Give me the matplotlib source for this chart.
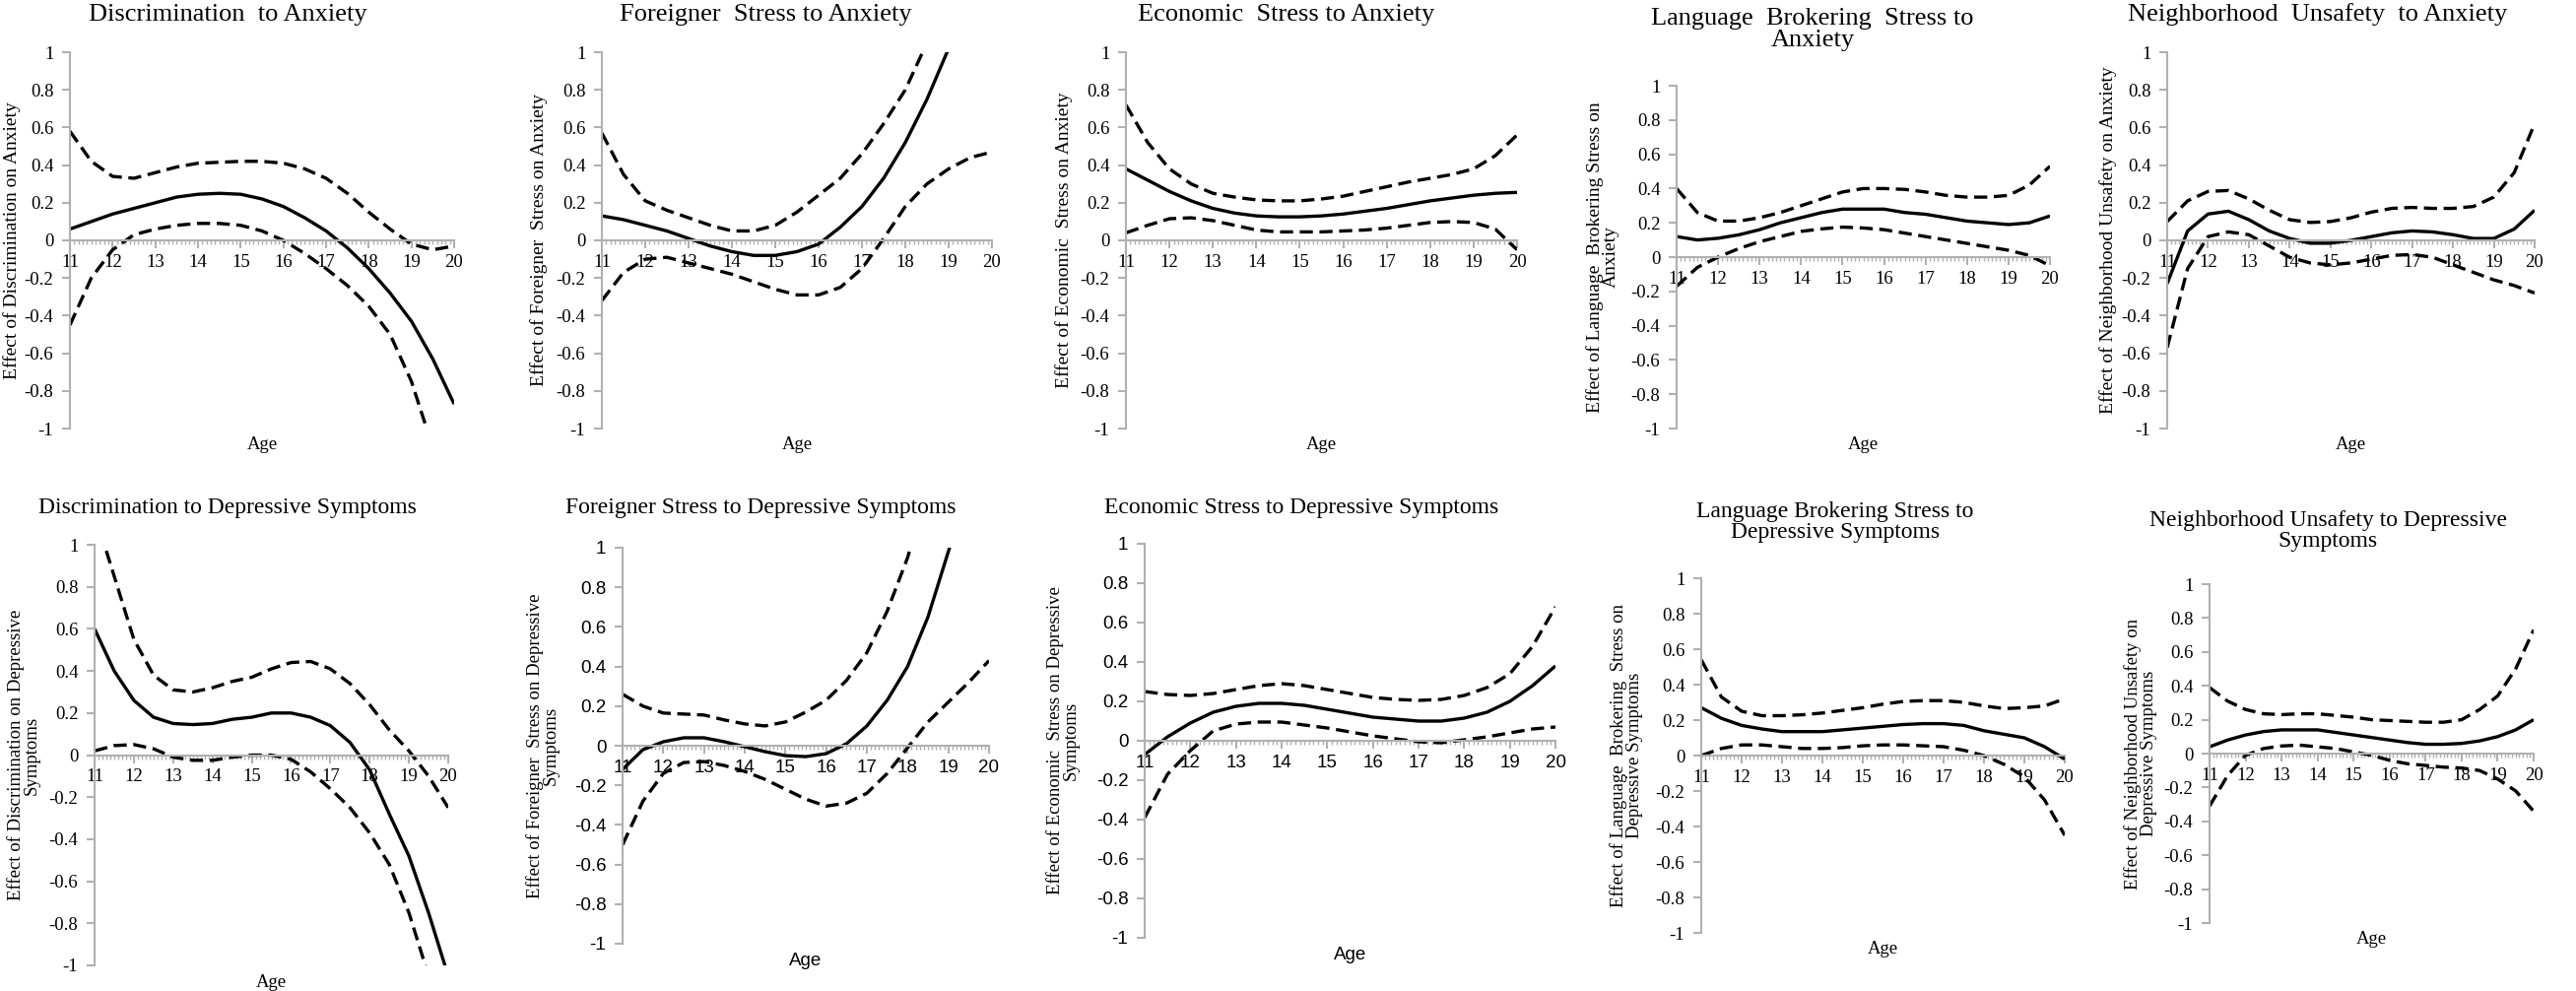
import numpy as np
import matplotlib
matplotlib.use("Agg")
import matplotlib.pyplot as plt
from matplotlib.ticker import MultipleLocator

# ages at half-year steps
age = [11, 11.5, 12, 12.5, 13, 13.5, 14, 14.5, 15, 15.5, 16, 16.5, 17, 17.5, 18, 18.5, 19, 19.5, 20]

# --- row 1: anxiety ---
disc_anx = [0.06, 0.10, 0.14, 0.17, 0.20, 0.23, 0.245, 0.25, 0.245, 0.22, 0.18, 0.12, 0.05, -0.04, -0.15, -0.28, -0.43, -0.63, -0.87]
disc_anx_hi = [0.58, 0.42, 0.34, 0.33, 0.36, 0.39, 0.41, 0.415, 0.42, 0.42, 0.41, 0.38, 0.33, 0.25, 0.15, 0.06, -0.02, -0.05, -0.03]
disc_anx_lo = [-0.45, -0.2, -0.05, 0.03, 0.06, 0.08, 0.09, 0.09, 0.08, 0.05, 0.0, -0.07, -0.15, -0.24, -0.35, -0.5, -0.75, -1.1, -1.5]

for_anx = [0.13, 0.11, 0.08, 0.05, 0.01, -0.03, -0.06, -0.08, -0.08, -0.06, -0.02, 0.07, 0.18, 0.33, 0.52, 0.75, 1.02, 1.3, 1.6]
for_anx_hi = [0.57, 0.35, 0.21, 0.16, 0.12, 0.08, 0.05, 0.05, 0.08, 0.15, 0.24, 0.33, 0.46, 0.62, 0.80, 1.05, 1.3, 1.6, 1.9]
for_anx_lo = [-0.32, -0.17, -0.1, -0.09, -0.12, -0.15, -0.18, -0.22, -0.26, -0.29, -0.29, -0.25, -0.15, 0.01, 0.18, 0.30, 0.38, 0.44, 0.47]

eco_anx = [0.38, 0.32, 0.26, 0.21, 0.17, 0.145, 0.13, 0.125, 0.125, 0.13, 0.14, 0.155, 0.17, 0.19, 0.21, 0.225, 0.24, 0.25, 0.255]
eco_anx_hi = [0.72, 0.52, 0.38, 0.30, 0.25, 0.23, 0.215, 0.21, 0.21, 0.22, 0.235, 0.26, 0.285, 0.31, 0.33, 0.35, 0.38, 0.45, 0.56]
eco_anx_lo = [0.04, 0.08, 0.115, 0.12, 0.105, 0.08, 0.055, 0.045, 0.045, 0.045, 0.05, 0.055, 0.065, 0.08, 0.095, 0.10, 0.095, 0.06, -0.05]

lang_anx = [0.12, 0.10, 0.11, 0.13, 0.16, 0.20, 0.23, 0.26, 0.28, 0.28, 0.28, 0.26, 0.25, 0.23, 0.21, 0.20, 0.19, 0.20, 0.24]
lang_anx_hi = [0.40, 0.26, 0.21, 0.21, 0.23, 0.26, 0.30, 0.34, 0.38, 0.40, 0.40, 0.395, 0.38, 0.36, 0.35, 0.35, 0.36, 0.42, 0.53]
lang_anx_lo = [-0.17, -0.06, 0.0, 0.05, 0.09, 0.12, 0.15, 0.165, 0.175, 0.17, 0.16, 0.14, 0.12, 0.10, 0.08, 0.06, 0.04, 0.01, -0.05]

nbh_anx = [-0.23, 0.05, 0.14, 0.155, 0.11, 0.05, 0.01, -0.015, -0.015, 0.0, 0.02, 0.04, 0.05, 0.045, 0.03, 0.01, 0.01, 0.06, 0.16]
nbh_anx_hi = [0.10, 0.21, 0.26, 0.265, 0.22, 0.16, 0.11, 0.095, 0.10, 0.12, 0.15, 0.17, 0.175, 0.17, 0.17, 0.18, 0.23, 0.36, 0.62]
nbh_anx_lo = [-0.57, -0.15, 0.02, 0.045, 0.03, -0.03, -0.09, -0.12, -0.13, -0.12, -0.10, -0.08, -0.075, -0.09, -0.13, -0.17, -0.21, -0.24, -0.28]

# --- row 2: depressive symptoms ---
disc_dep = [0.60, 0.40, 0.26, 0.18, 0.15, 0.145, 0.15, 0.17, 0.18, 0.20, 0.20, 0.18, 0.14, 0.06, -0.07, -0.28, -0.48, -0.75, -1.05]
disc_dep_hi = [1.15, 0.85, 0.55, 0.38, 0.31, 0.30, 0.32, 0.35, 0.37, 0.41, 0.44, 0.445, 0.41, 0.34, 0.24, 0.12, 0.02, -0.10, -0.25]
disc_dep_lo = [0.02, 0.045, 0.05, 0.03, -0.01, -0.025, -0.025, -0.01, 0.0, 0.0, -0.02, -0.08, -0.16, -0.25, -0.37, -0.52, -0.75, -1.05, -1.4]

for_dep = [-0.12, -0.02, 0.02, 0.04, 0.04, 0.02, -0.005, -0.03, -0.05, -0.055, -0.04, 0.01, 0.10, 0.23, 0.40, 0.65, 0.98, 1.3, 1.6]
for_dep_hi = [0.26, 0.20, 0.165, 0.16, 0.155, 0.13, 0.11, 0.10, 0.12, 0.17, 0.23, 0.33, 0.47, 0.68, 0.95, 1.3, 1.6, 1.9, 2.2]
for_dep_lo = [-0.50, -0.28, -0.14, -0.085, -0.08, -0.10, -0.13, -0.17, -0.22, -0.27, -0.305, -0.29, -0.24, -0.14, -0.01, 0.12, 0.22, 0.32, 0.43]

eco_dep = [-0.07, 0.02, 0.09, 0.145, 0.175, 0.19, 0.19, 0.18, 0.16, 0.14, 0.12, 0.11, 0.10, 0.10, 0.115, 0.145, 0.20, 0.28, 0.38]
eco_dep_hi = [0.25, 0.235, 0.23, 0.24, 0.26, 0.28, 0.29, 0.28, 0.26, 0.24, 0.22, 0.21, 0.205, 0.21, 0.23, 0.27, 0.34, 0.48, 0.68]
eco_dep_lo = [-0.39, -0.17, -0.05, 0.05, 0.085, 0.095, 0.095, 0.08, 0.065, 0.045, 0.025, 0.01, -0.005, -0.01, 0.005, 0.02, 0.04, 0.06, 0.07]

lang_dep = [0.27, 0.21, 0.17, 0.15, 0.135, 0.135, 0.135, 0.145, 0.155, 0.165, 0.175, 0.18, 0.18, 0.17, 0.14, 0.12, 0.10, 0.05, -0.02]
lang_dep_hi = [0.54, 0.33, 0.25, 0.225, 0.225, 0.23, 0.24, 0.255, 0.27, 0.29, 0.305, 0.31, 0.31, 0.30, 0.28, 0.265, 0.27, 0.28, 0.32]
lang_dep_lo = [0.0, 0.04, 0.06, 0.06, 0.05, 0.04, 0.04, 0.045, 0.055, 0.06, 0.06, 0.055, 0.05, 0.03, 0.0, -0.05, -0.12, -0.25, -0.45]

nbh_dep = [0.04, 0.08, 0.11, 0.13, 0.14, 0.14, 0.14, 0.125, 0.11, 0.095, 0.08, 0.065, 0.055, 0.055, 0.06, 0.075, 0.10, 0.14, 0.20]
nbh_dep_hi = [0.39, 0.31, 0.26, 0.235, 0.23, 0.235, 0.235, 0.225, 0.215, 0.20, 0.195, 0.19, 0.185, 0.185, 0.20, 0.26, 0.34, 0.50, 0.73]
nbh_dep_lo = [-0.31, -0.13, -0.01, 0.03, 0.045, 0.05, 0.04, 0.03, 0.01, -0.01, -0.04, -0.06, -0.07, -0.08, -0.085, -0.10, -0.15, -0.22, -0.34]

titles = ["Discrimination  to Anxiety", "Foreigner  Stress to Anxiety", "Economic  Stress to Anxiety",
          "Language  Brokering  Stress to\nAnxiety", "Neighborhood  Unsafety  to Anxiety",
          "Discrimination to Depressive Symptoms", "Foreigner Stress to Depressive Symptoms",
          "Economic Stress to Depressive Symptoms", "Language Brokering Stress to\nDepressive Symptoms",
          "Neighborhood Unsafety to Depressive\nSymptoms"]
ylabels = ["Effect of Discrimination on Anxiety", "Effect of Foreigner  Stress on Anxiety",
           "Effect of Economic  Stress on Anxiety", "Effect of Language  Brokering Stress on\nAnxiety",
           "Effect of Neighborhood Unsafety on Anxiety",
           "Effect of Discrimination on Depressive\nSymptoms", "Effect of Foreigner  Stress on Depressive\nSymptoms",
           "Effect of Economic  Stress on Depressive\nSymptoms", "Effect of Language  Brokering  Stress on\nDepressive Symptoms",
           "Effect of Neighborhood Unsafety on\nDepressive Symptoms"]
series = [(disc_anx, disc_anx_hi, disc_anx_lo), (for_anx, for_anx_hi, for_anx_lo), (eco_anx, eco_anx_hi, eco_anx_lo),
          (lang_anx, lang_anx_hi, lang_anx_lo), (nbh_anx, nbh_anx_hi, nbh_anx_lo),
          (disc_dep, disc_dep_hi, disc_dep_lo), (for_dep, for_dep_hi, for_dep_lo), (eco_dep, eco_dep_hi, eco_dep_lo),
          (lang_dep, lang_dep_hi, lang_dep_lo), (nbh_dep, nbh_dep_hi, nbh_dep_lo)]

# layout in pixels: left, right, top, bottom of axes; title centre; ylabel centre offset
W, H = 2615, 1006
boxes = [(71, 461, 53, 435), (611, 1007, 53, 435), (1143, 1540, 53, 435), (1702, 2081, 87, 435), (2200, 2573, 53, 435),
         (96, 455, 553, 980), (632, 1004, 556, 958), (1162, 1579, 552, 952), (1727, 2096, 587, 947), (2243, 2572, 593, 937)]
title_pos = [(231, 15), (777, 15), (1306, 15), (1840, 30), (2353, 15),
             (231, 515), (772, 515), (1321, 515), (1863, 530), (2363, 539)]
ylab_off = [59, 64, 63, 75, 60, 72, 81, 83, 76, 70]
sans_ticks = [False] * 6 + [True, True, False, False]

SERIF = "Liberation Serif"
SANS = "Liberation Sans"

fig = plt.figure(figsize=(W / 100, H / 100), dpi=100)

for i in range(10):
    l, r, t, b = boxes[i]
    ax = fig.add_axes([l / W, 1 - b / H, (r - l) / W, (b - t) / H])
    est, hi, lo = series[i]
    ax.plot(age, est, color="black", lw=2.4, solid_capstyle="butt")
    ax.plot(age, hi, color="black", lw=2.4, ls=(0, (4, 2)))
    ax.plot(age, lo, color="black", lw=2.4, ls=(0, (4, 2)))
    ax.set_xlim(11, 20)
    ax.set_ylim(-1, 1)

    for s in ["top", "right"]:
        ax.spines[s].set_visible(False)
    ax.spines["bottom"].set_position(("data", 0))
    for s in ["left", "bottom"]:
        ax.spines[s].set_color("#b0b0b0")
        ax.spines[s].set_linewidth(1.5)

    ax.xaxis.set_minor_locator(MultipleLocator(0.1))
    ax.tick_params(axis="x", which="major", direction="out", length=6, color="#b0b0b0", width=1.5, pad=4)
    ax.tick_params(axis="x", which="minor", direction="out", length=3, color="#b0b0b0", width=1)
    ax.tick_params(axis="y", direction="out", length=6, color="#b0b0b0", width=1.5, pad=6)

    fam = SANS if sans_ticks[i] else SERIF
    ax.set_xticks(range(11, 21))
    ax.set_xticklabels([str(v) for v in range(11, 21)], fontsize=13.5, family=fam)
    yt = np.round(np.arange(-1, 1.01, 0.2), 1) + 0.0
    ax.set_yticks(yt)
    ax.set_yticklabels([("%g" % v) for v in yt], fontsize=13.5, family=fam)

    ax.set_ylabel(ylabels[i], fontsize=14 if i < 5 else 13.5, family=SERIF, linespacing=0.95, va="center")
    ax.yaxis.set_label_coords(-ylab_off[i] / (r - l), 0.5)

    ax.text(0.5, -17 / (b - t), "Age", transform=ax.transAxes, ha="center", va="center",
            fontsize=13.5, family=fam)

    tx, ty = title_pos[i]
    fig.text(tx / W, 1 - ty / H, titles[i], ha="center", va="center", fontsize=19 if i < 5 else 17,
             family=SERIF, linespacing=1.0)

fig.savefig("out.png", dpi=100)
